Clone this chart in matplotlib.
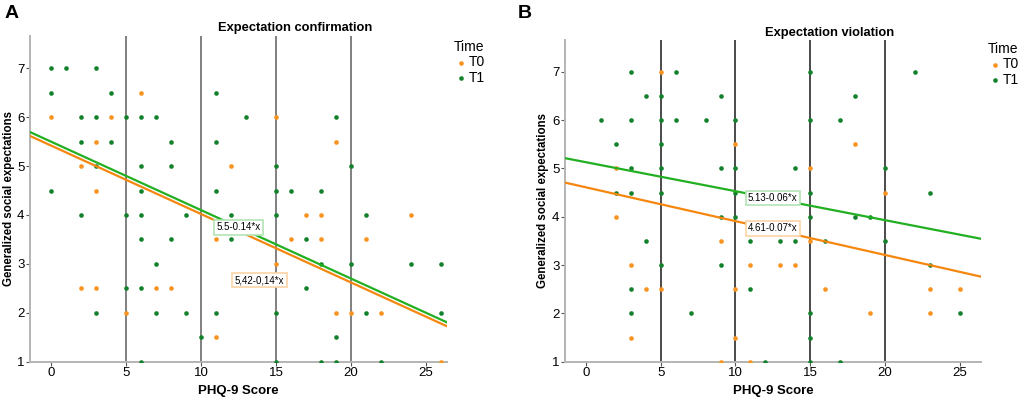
import numpy as np
import matplotlib.pyplot as plt

plt.rcParams['font.family'] = ['Liberation Sans', 'DejaVu Sans']

# panel A - expectation confirmation
a_t0_x = [0, 3, 4, 6, 2, 3, 12, 15, 19, 11, 2, 3, 7, 8, 5, 11, 17, 18, 24, 16, 18, 21, 15, 19, 20, 22, 26]
a_t0_y = [6, 5.5, 6, 6.5, 5, 4.5, 5, 6, 5.5, 3.5, 2.5, 2.5, 2.5, 2.5, 2, 1.5, 4, 4, 4, 3.5, 3.5, 3.5, 3, 2, 2, 2, 1]
a_t1_x = [0, 1, 3, 0, 4, 11, 2, 3, 5, 6, 7, 13, 19, 2, 4, 8, 11, 3, 6, 8, 15, 20,
          0, 6, 11, 15, 16, 18, 2, 5, 6, 9, 12, 15, 21, 6, 8, 12, 17, 7, 18, 20, 24, 26,
          5, 6, 17, 3, 7, 9, 11, 15, 21, 26, 10, 19, 6, 15, 18, 19, 22]
a_t1_y = [7, 7, 7, 6.5, 6.5, 6.5, 6, 6, 6, 6, 6, 6, 6, 5.5, 5.5, 5.5, 5.5, 5, 5, 5, 5, 5,
          4.5, 4.5, 4.5, 4.5, 4.5, 4.5, 4, 4, 4, 4, 4, 4, 4, 3.5, 3.5, 3.5, 3.5, 3, 3, 3, 3, 3,
          2.5, 2.5, 2.5, 2, 2, 2, 2, 2, 2, 2, 1.5, 1.5, 1, 1, 1, 1, 1]
a_fit = {'T0': (5.42, -0.14), 'T1': (5.5, -0.14)}
a_lab = {'T0': '5,42-0,14*x', 'T1': '5.5-0.14*x'}

# panel B - expectation violation
b_t0_x = [5, 10, 18, 2, 15, 20, 2, 9, 15, 3, 11, 13, 14, 4, 5, 10, 16, 23, 25, 19, 23, 3, 10, 9, 11]
b_t0_y = [7, 5.5, 5.5, 5, 5, 4.5, 4, 3.5, 3.5, 3, 3, 3, 3, 2.5, 2.5, 2.5, 2.5, 2.5, 2.5, 2, 2, 1.5, 1.5, 1, 1]
b_t1_x = [3, 6, 15, 22, 4, 5, 9, 18, 1, 3, 5, 6, 8, 10, 15, 17, 2, 5, 3, 5, 9, 10, 14, 20,
          2, 3, 5, 10, 11, 15, 23, 9, 10, 15, 18, 19, 4, 11, 13, 14, 16, 20, 5, 9, 23,
          3, 11, 3, 7, 15, 25, 15, 12, 15, 17]
b_t1_y = [7, 7, 7, 7, 6.5, 6.5, 6.5, 6.5, 6, 6, 6, 6, 6, 6, 6, 6, 5.5, 5.5, 5, 5, 5, 5, 5, 5,
          4.5, 4.5, 4.5, 4.5, 4.5, 4.5, 4.5, 4, 4, 4, 4, 4, 3.5, 3.5, 3.5, 3.5, 3.5, 3.5, 3, 3, 3,
          2.5, 2.5, 2, 2, 2, 2, 1.5, 1, 1, 1]
b_fit = {'T0': (4.61, -0.07), 'T1': (5.13, -0.06)}
b_lab = {'T0': '4.61-0.07*x', 'T1': '5.13-0.06*x'}

pt_col = {'T0': '#f7931e', 'T1': '#13812b'}
ln_col = {'T0': '#f5870f', 'T1': '#22b022'}
box_col = {'T0': '#fcd3a4', 'T1': '#b4e4b4'}


def panel(ax, t0x, t0y, t1x, t1y, fit, lab, labpos, title, tpos, legpos, vcol, ylab_x):
    xlim = (-1.4, 26.4)
    for v in [5, 10, 15, 20]:
        ax.axvline(v, color=vcol, lw=1.4, zorder=1)
    ax.scatter(t0x, t0y, s=11, color=pt_col['T0'], lw=0, zorder=3, label='T0')
    ax.scatter(t1x, t1y, s=11, color=pt_col['T1'], lw=0, zorder=3, label='T1')
    xx = np.array(xlim)
    for k in ['T0', 'T1']:
        b0, b1 = fit[k]
        ax.plot(xx, b0 + b1 * xx, color=ln_col[k], lw=1.6, zorder=4)
        ax.text(labpos[k][0], labpos[k][1], lab[k], fontsize=7, ha='center', va='center', zorder=5,
                bbox=dict(boxstyle='square,pad=0.25', fc='white', ec=box_col[k], lw=1.2))
    ax.set_xlim(xlim)
    ax.set_ylim(1, 7.66)
    ax.set_xticks([0, 5, 10, 15, 20, 25])
    ax.set_yticks([1, 2, 3, 4, 5, 6, 7])
    for s in ['top', 'right']:
        ax.spines[s].set_visible(False)
    for s in ['left', 'bottom']:
        ax.spines[s].set_color('#b4b4b4')
        ax.spines[s].set_linewidth(1.4)
    ax.tick_params(labelsize=9.5, length=3, color='#555555', pad=1)
    ax.set_xlabel('PHQ-9 Score', fontsize=9.5, fontweight='bold', labelpad=4)
    ax.set_ylabel('Generalized social expectations', fontsize=8.3, fontweight='bold', va='center')
    ax.yaxis.set_label_coords(ylab_x, 0.5)
    fig.text(tpos[0], tpos[1], title, fontsize=9.3, fontweight='bold', ha='center', va='center')
    leg = ax.legend(loc='upper left', bbox_to_anchor=legpos, bbox_transform=fig.transFigure,
                    frameon=False, title='Time', fontsize=10, title_fontsize=10,
                    handletextpad=0.1, handlelength=1.0, labelspacing=0.1, borderpad=0,
                    markerscale=1.0)
    leg._legend_box.align = 'left'


fig = plt.figure(figsize=(10.21, 4.0), dpi=100)
ax1 = fig.add_axes([30 / 1021, 1 - 361.7 / 400, 417 / 1021, (361.7 - 36) / 400])
ax2 = fig.add_axes([565 / 1021, 1 - 361.7 / 400, 415.7 / 1021, (361.7 - 40) / 400])

panel(ax1, a_t0_x, a_t0_y, a_t1_x, a_t1_y, a_fit, a_lab,
      {'T1': (12.5, 3.75), 'T0': (13.9, 2.67)},
      'Expectation confirmation', (295 / 1021, 1 - 28 / 400), (447 / 1021, 1 - 33 / 400), '#808080',
      (9 - 30) / 417)
panel(ax2, b_t0_x, b_t0_y, b_t1_x, b_t1_y, b_fit, b_lab,
      {'T1': (12.5, 4.39), 'T0': (12.5, 3.76)},
      'Expectation violation', (830 / 1021, 1 - 33 / 400), (981 / 1021, 1 - 35 / 400), '#4a4a4a',
      (543 - 565) / 415.7)

fig.text(5 / 1021, 1 - 13 / 400, 'A', fontsize=14, fontweight='bold', va='center')
fig.text(518 / 1021, 1 - 13 / 400, 'B', fontsize=14, fontweight='bold', va='center')

plt.savefig('out.png', dpi=100)
